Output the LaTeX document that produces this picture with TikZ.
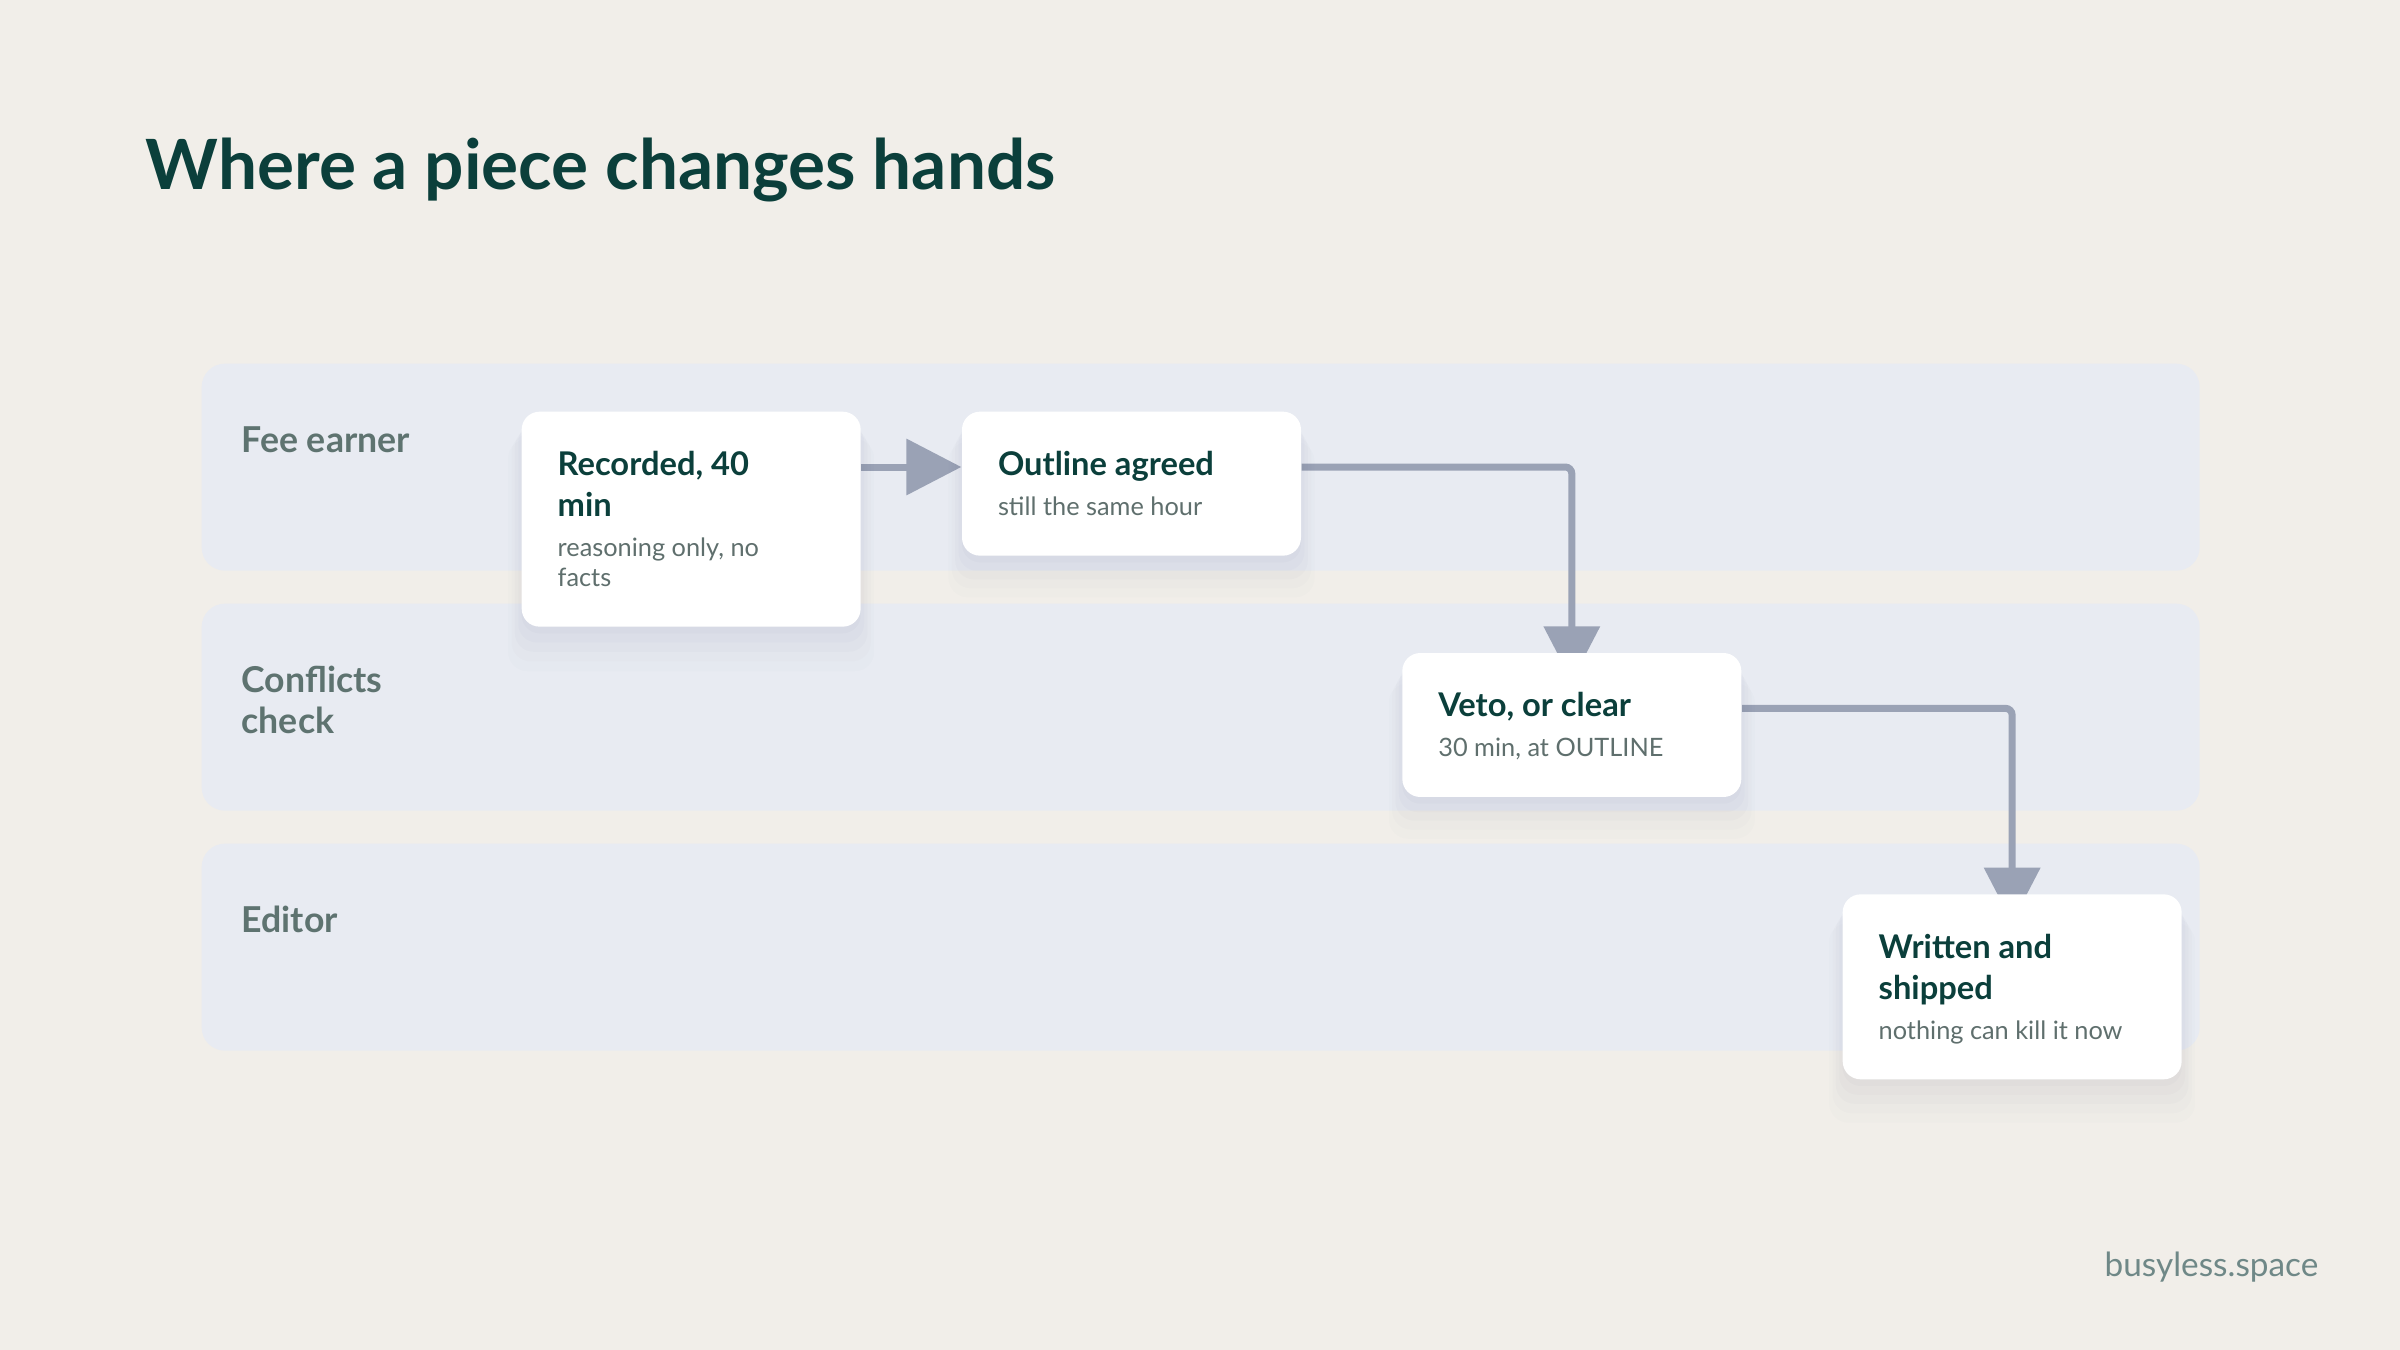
\documentclass[tikz,border=0pt]{standalone}
\usepackage{fontspec}
\setmainfont{Lato}
\usetikzlibrary{positioning}
\usetikzlibrary{calc}
\usetikzlibrary{arrows.meta}
\usetikzlibrary{shadows}

\definecolor{pagebg}{HTML}{F1EEE9}
\definecolor{lanefill}{HTML}{E8EBF2}
\definecolor{ink}{HTML}{0B3F3B}
\definecolor{lanegray}{HTML}{5E7370}
\definecolor{muted}{HTML}{5F6F6D}
\definecolor{linkgray}{HTML}{9AA2B5}
\definecolor{footgray}{HTML}{6F8887}
\definecolor{shade}{HTML}{3C466E}

\pgfdeclarelayer{lanes}
\pgfdeclarelayer{links}
\pgfsetlayers{lanes,links,main}

% card body: bold heading, then a grey note
\newcommand{\cardtext}[2]{\spaceskip=0pt\xspaceskip=0pt\rule{0pt}{19.2pt}{\fontsize{9.8}{12.3}\selectfont\bfseries\color{ink}#1\par}\vspace{3pt}{\fontsize{7.6}{9}\selectfont\color{muted}#2\rule[-12pt]{0pt}{12pt}\par}}

\begin{document}
\begin{tikzpicture}[
        x=0.3pt, y=-0.3pt,
        lane/.style = {fill=lanefill,
                       rounded corners=7pt,
                       minimum width=599.4pt,
                       minimum height=62.1pt,
                       inner sep=0pt,
                       anchor=north west},
        lanelabel/.style = {anchor=north west, inner sep=0pt, text width=120pt, align=flush left,
                            font=\fontsize{10.7}{12.3}\selectfont\bfseries, text=lanegray},
        card/.style = {fill=white,
                       rounded corners=5.4pt,
                       text width=80.1pt,
                       inner xsep=10.8pt, inner ysep=0pt,
                       align=flush left,
                       drop shadow={shadow xshift=0pt, shadow yshift=-2pt, opacity=.02, fill=shade, shadow scale=1},
                       drop shadow={shadow xshift=0pt, shadow yshift=-4pt, opacity=.02, fill=shade, shadow scale=1.02},
                       drop shadow={shadow xshift=0pt, shadow yshift=-6pt, opacity=.02, fill=shade, shadow scale=1.04},
                       drop shadow={shadow xshift=0pt, shadow yshift=-8pt, opacity=.015, fill=shade, shadow scale=1.06},
                       drop shadow={shadow xshift=0pt, shadow yshift=-10pt, opacity=.01, fill=shade, shadow scale=1.08}},
        link/.style = {draw=linkgray, line width=2.1pt, -{Triangle[length=16.5pt,width=16.5pt]}}
        ]
        \useasboundingbox (0,0) rectangle (2400,1350);
        \begin{pgfonlayer}{lanes}
            \fill[pagebg] (0,0) rectangle (2400,1350);
            \node[lane] (fee) at (201,363) {};
            \node[lane] (conflicts) at (201,603) {};
            \node[lane] (editor) at (201,843) {};
        \end{pgfonlayer}

        \node[anchor=base west, inner sep=0pt, font=\fontsize{20.8}{25}\selectfont\bfseries, text=ink] (title) at (145,190) {Where a piece changes hands};

        \node[lanelabel] (feelabel) at ($(fee.north west)+(40,0)$) {\rule{0pt}{26.7pt}Fee earner};
        \node[lanelabel] (conflictslabel) at ($(conflicts.north west)+(40,0)$) {\rule{0pt}{26.7pt}Conflicts\\check};
        \node[lanelabel] (editorlabel) at ($(editor.north west)+(40,0)$) {\rule{0pt}{26.7pt}Editor};

        \node[card, anchor=north west] (rec) at (521,411) {\cardtext{Recorded, 40\\min}{reasoning only, no\\facts}};
        \node[card, right=30pt of rec.north east, anchor=north west] (outline) {\cardtext{Outline agreed}{still the same hour}};
        \node[card, below right=28.8pt and 30pt of outline.south east, anchor=north west] (veto) {\cardtext{Veto, or clear}{30 min, at OUTLINE}};
        \node[card, below right=28.8pt and 30pt of veto.south east, anchor=north west] (shipped) {\cardtext{Written and\\shipped}{nothing can kill it now}};

        \begin{pgfonlayer}{links}
            \draw[link] ($(rec.north east)+(0,56)$) -- ($(outline.north west)+(0,56)$);
            \draw[link, rounded corners=2pt, shorten >=-8.7pt] ($(outline.north east)+(0,56)$) -| (veto.north);
            \draw[link, rounded corners=2pt, shorten >=-8.7pt] ($(veto.north east)+(0,56)$) -| (shipped.north);
        \end{pgfonlayer}

        \node[anchor=base east, inner sep=0pt, font=\fontsize{10}{12}\selectfont, text=footgray] (site) at (2319,1276) {busyless.space};
    \end{tikzpicture}
\end{document}
